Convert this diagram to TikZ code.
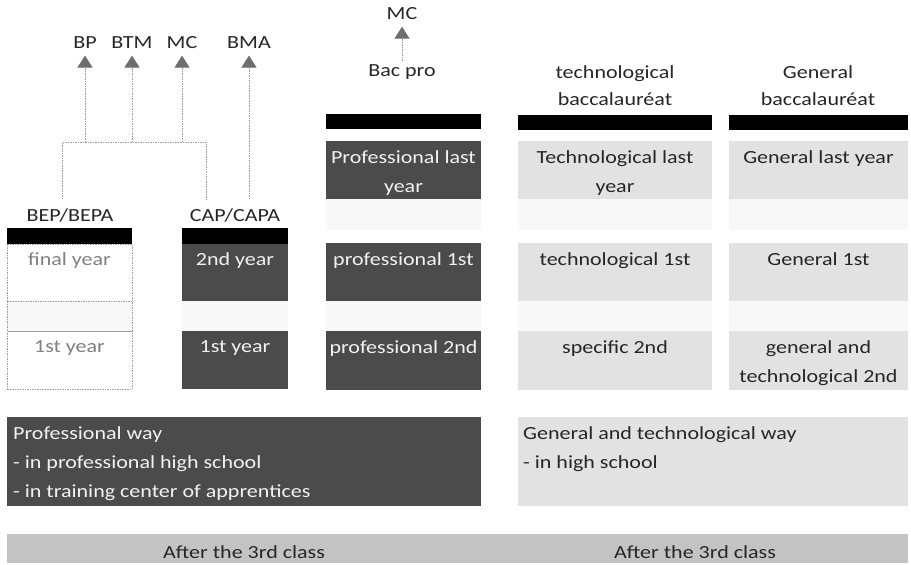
\documentclass[tikz,border=0pt]{standalone}
\usepackage{fontspec}
\setmainfont{Carlito}[FakeStretch=1.19]
\usetikzlibrary{arrows.meta}

\definecolor{darkfill}{HTML}{4B4B4B}
\definecolor{lightfill}{HTML}{E2E2E2}
\definecolor{faintfill}{HTML}{F8F8F8}
\definecolor{footfill}{HTML}{C3C3C3}
\definecolor{tipgray}{HTML}{6E6E6E}

\begin{document}
\begin{tikzpicture}[x=1pt,y=-1pt]

	\tikzset{every node/.style={font=\fontsize{18.5}{29}\selectfont},
		cell/.style={inner sep=0pt, outer sep=0pt, anchor=north west},
		darkcell/.style={cell, fill=darkfill},
		lightcell/.style={cell, fill=lightfill},
		faintcell/.style={cell, fill=faintfill},
		dotcell/.style={cell, draw=gray!75, line width=1pt, dash pattern=on 1.5pt off 1pt},
		topbar/.style={cell, fill=black},
		wtxt/.style={anchor=base, align=center, inner sep=0pt, text=white!95!black},
		btxt/.style={anchor=base, align=center, inner sep=0pt, text=black!85},
		gtxt/.style={anchor=base, align=center, inner sep=0pt, text=black!50},
		head/.style={anchor=base, align=center, text=black!85, font=\fontsize{18.5}{27}\selectfont},
		dotline/.style={draw=gray!75, line width=1pt, dash pattern=on 1.5pt off 1pt},
		uparrow/.style={dotline, shorten >=4pt, -{Triangle[width=15pt,length=12pt,fill=tipgray,color=tipgray]}}}

	\useasboundingbox (0,0) rectangle (911,565);

	% BEP/BEPA column
	\node[head] (bep) at (70,221) {BEP/BEPA};
	\node[topbar, minimum width=125, minimum height=16] (bepbar) at (7,228) {};
	\node[dotcell, minimum width=125, minimum height=57] (bepfinal) at (7,244) {};
	\node[dotcell, faintcell, minimum width=125, minimum height=30] (bepgap) at (7,301) {};
	\node[dotcell, minimum width=125, minimum height=58] (bepfirst) at (7,331) {};
	\node[gtxt] at ([yshift=-21pt]bepfinal.north) {final year};
	\node[gtxt] at ([yshift=-21pt]bepfirst.north) {1st year};

	% CAP/CAPA column
	\node[head] (cap) at (235,221) {CAP/CAPA};
	\node[topbar, minimum width=106, minimum height=16] (capbar) at (182,228) {};
	\node[darkcell, minimum width=106, minimum height=57] (capsecond) at (182,244) {};
	\node[faintcell, minimum width=106, minimum height=30] (capgap) at (182,301) {};
	\node[darkcell, minimum width=106, minimum height=58] (capfirst) at (182,331) {};
	\node[wtxt] at ([yshift=-21pt]capsecond.north) {2nd year};
	\node[wtxt] at ([yshift=-21pt]capfirst.north) {1st year};

	% further studies after BEP and CAP
	\node[head] (bp) at (85,48) {BP};
	\node[head] (btm) at (132,48) {BTM};
	\node[head] (mcleft) at (182,48) {MC};
	\node[head] (bma) at (249,48) {BMA};
	\coordinate (bepup) at (62,199);
	\coordinate (capup) at (206,199);
	\coordinate (jleft) at (62,142);
	\coordinate (jright) at (206,142);
	\draw[dotline] (bepup) -- (jleft) -- (jright) -- (capup);
	\draw[uparrow] (bp |- jleft) -- (bp.south);
	\draw[uparrow] (btm |- jleft) -- (btm.south);
	\draw[uparrow] (mcleft |- jleft) -- (mcleft.south);
	\draw[uparrow] (bma |- capup) -- (bma.south);

	% Bac pro column
	\node[head] (bacpro) at (402,76) {Bac pro};
	\node[head] (mcpro) at (402,19) {MC};
	\draw[uparrow] (bacpro.north) -- (mcpro.south);
	\node[topbar, minimum width=155, minimum height=15] (probar) at (326,114) {};
	\node[darkcell, minimum width=155, minimum height=58] (prolast) at (326,141) {};
	\node[faintcell, minimum width=155, minimum height=31] (progap) at (326,199) {};
	\node[darkcell, minimum width=155, minimum height=58] (profirst) at (326,243) {};
	\node[faintcell, minimum width=155, minimum height=30] (progap2) at (326,301) {};
	\node[darkcell, minimum width=155, minimum height=59] (prosecond) at (326,331) {};
	% two-line nodes sit on their last line
	\node[wtxt] at ([yshift=-51pt]prolast.north) {Professional last\\year};
	\node[wtxt] at ([yshift=-22pt]profirst.north) {professional 1st};
	\node[wtxt] at ([yshift=-22pt]prosecond.north) {professional 2nd};

	% technological column
	\node[head] (techhead) at (615,105) {technological\\baccalauréat};
	\node[topbar, minimum width=194, minimum height=15] (techbar) at (518,115) {};
	\node[lightcell, minimum width=194, minimum height=58] (techlast) at (518,141) {};
	\node[faintcell, minimum width=194, minimum height=31] (techgap) at (518,199) {};
	\node[lightcell, minimum width=194, minimum height=58] (techfirst) at (518,243) {};
	\node[faintcell, minimum width=194, minimum height=30] (techgap2) at (518,301) {};
	\node[lightcell, minimum width=194, minimum height=59] (techsecond) at (518,331) {};
	\node[btxt] at ([yshift=-51pt]techlast.north) {Technological last\\year};
	\node[btxt] at ([yshift=-22pt]techfirst.north) {technological 1st};
	\node[btxt] at ([yshift=-22pt]techsecond.north) {specific 2nd};

	% general column
	\node[head] (genhead) at (818,105) {General\\baccalauréat};
	\node[topbar, minimum width=179, minimum height=15] (genbar) at (729,115) {};
	\node[lightcell, minimum width=179, minimum height=58] (genlast) at (729,141) {};
	\node[faintcell, minimum width=179, minimum height=31] (gengap) at (729,199) {};
	\node[lightcell, minimum width=179, minimum height=58] (genfirst) at (729,243) {};
	\node[faintcell, minimum width=179, minimum height=30] (gengap2) at (729,301) {};
	\node[lightcell, minimum width=179, minimum height=59] (gensecond) at (729,331) {};
	\node[btxt] at ([yshift=-22pt]genlast.north) {General last year};
	\node[btxt] at ([yshift=-22pt]genfirst.north) {General 1st};
	\node[btxt] at ([yshift=-51pt]gensecond.north) {general and\\technological 2nd};

	% the two ways
	\node[darkcell, minimum width=474, minimum height=89] (proway) at (7,417) {};
	\node[lightcell, minimum width=390, minimum height=89] (genway) at (518,417) {};
	\node[wtxt, anchor=base west, align=left] at ([xshift=6pt,yshift=-80pt]proway.north west)
		{Professional way\\- in professional high school\\- in training center of apprentices};
	\node[btxt, anchor=base west, align=left] at ([xshift=5pt,yshift=-51pt]genway.north west)
		{General and technological way\\- in high school};

	% after the 3rd class
	\node[cell, fill=footfill, minimum width=901, minimum height=29] (foot) at (7,534) {};
	\node[btxt] at (244,558) {After the 3rd class};
	\node[btxt] at (695,558) {After the 3rd class};

\end{tikzpicture}
\end{document}
